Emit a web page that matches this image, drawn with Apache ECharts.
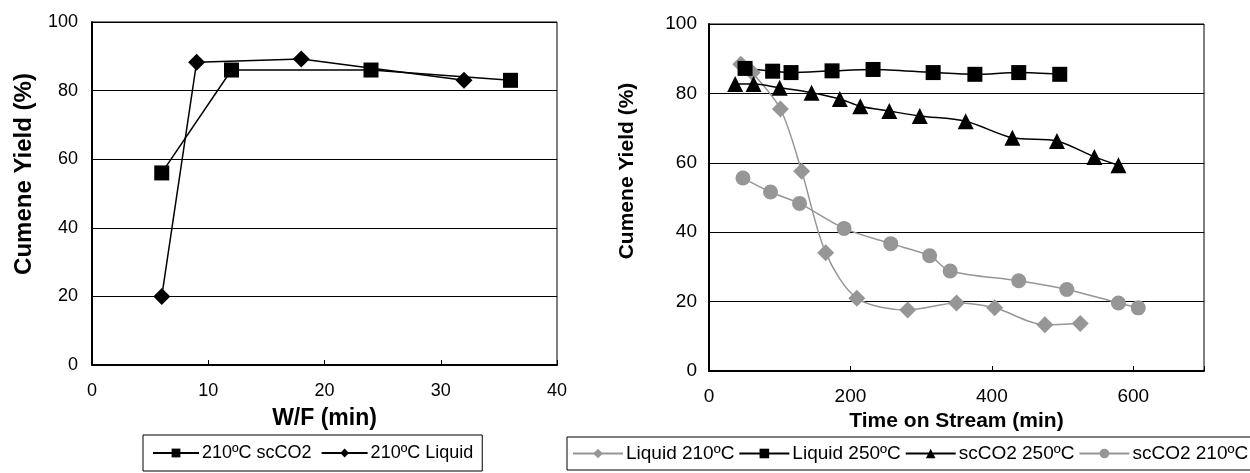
<!DOCTYPE html>
<html>
<head>
<meta charset="utf-8">
<script src="https://cdn.jsdelivr.net/npm/echarts@6/dist/echarts.min.js"></script>
<style>
  html, body { margin: 0; padding: 0; background: #fff; }
  #chart { width: 1250px; height: 473px; }
</style>
</head>
<body>
<div id="chart"></div>
<script>
// Cumene yield vs. W/F (left panel)
const wfScco2X = [6, 12, 24, 36];
const wfScco2Y = [56, 86, 86, 83];
const wfLiquidX = [6, 9, 18, 32];
const wfLiquidY = [20, 88.3, 89.2, 83];

// Cumene yield vs. time on stream (right panel)
const liq210T = [45, 61, 101, 131, 165, 209, 281, 350, 404, 475, 525];
const liq210Y = [88.4, 86.0, 75.5, 57.6, 34.1, 21.0, 17.6, 19.6, 18.2, 13.3, 13.7];
const liq250T = [51, 90, 116, 174, 232, 317, 376, 438, 496];
const liq250Y = [87.2, 86.4, 86.0, 86.5, 86.9, 86.0, 85.5, 86.0, 85.5];
const sc250T = [37, 63, 100, 145, 185, 214, 255, 298, 363, 429, 492, 545, 579];
const sc250Y = [82.7, 82.7, 81.6, 80.2, 78.4, 76.3, 74.9, 73.5, 72.0, 67.2, 66.3, 61.7, 59.3];
const sc210T = [48, 87, 128, 191, 257, 312, 341, 438, 506, 579, 607];
const sc210Y = [55.6, 51.6, 48.3, 41.1, 36.7, 33.2, 28.8, 26.0, 23.5, 19.6, 18.2];

// Axis ranges [min, max, interval] and titles
const leftXRange = [0, 40, 10];
const rightXRange = [0, 700, 200];
const yRange = [0, 100, 20];
const leftXTitle = 'W/F (min)';
const rightXTitle = 'Time on Stream (min)';
const yTitle = 'Cumene Yield (%)';

// Series names
const leftNames = ['210ºC scCO2', '210ºC Liquid'];
const rightNames = ['Liquid 210ºC', 'Liquid 250ºC', 'scCO2 250ºC', 'scCO2 210ºC'];

const FONT = "'Liberation Sans', Arial, Helvetica, sans-serif";
const BLACK = '#000000';
const GRAY = '#969696';

const pairs = (xs, ys) => xs.map((x, i) => [x, ys[i]]);

function xAxisOf(gridIndex, range, title, fontSize, titleSize, nameGap, labelMargin) {
  return {
    type: 'value', gridIndex,
    min: range[0], max: range[1], interval: range[2],
    name: title, nameLocation: 'middle', nameGap,
    nameTextStyle: { fontFamily: FONT, fontWeight: 'bold', fontSize: titleSize, color: BLACK },
    axisLine: { show: true, onZero: false, lineStyle: { color: BLACK, width: 2 } },
    axisTick: { show: true, inside: true, length: 5, lineStyle: { color: BLACK, width: 1 } },
    axisLabel: {
      fontFamily: FONT, fontSize, color: BLACK, margin: labelMargin,
      // the axis end is only labelled when it falls on a whole interval
      formatter: v => (v === range[1] && range[1] % range[2] !== 0) ? '' : String(v)
    },
    splitLine: { show: false }
  };
}

function yAxisOf(gridIndex, fontSize, labelMargin) {
  return {
    type: 'value', gridIndex,
    min: yRange[0], max: yRange[1], interval: yRange[2],
    axisLine: { show: true, lineStyle: { color: BLACK, width: 2 } },
    axisTick: { show: false },
    axisLabel: { fontFamily: FONT, fontSize, color: BLACK, margin: labelMargin },
    splitLine: { show: true, lineStyle: { color: BLACK, width: 1 } }
  };
}

function lineSeries(name, xi, yi, data, color, symbol, size, smooth) {
  return {
    name, type: 'line', xAxisIndex: xi, yAxisIndex: yi,
    data, symbol, symbolSize: size, smooth,
    showAllSymbol: true,
    lineStyle: { color, width: 1.5 },
    itemStyle: { color, borderWidth: 0 },
    emphasis: { disabled: true },
    animation: false, z: 3
  };
}

const chart = echarts.init(document.getElementById('chart'), null, { renderer: 'canvas' });

chart.setOption({
  backgroundColor: '#ffffff',
  animation: false,
  textStyle: { fontFamily: FONT },
  grid: [
    { left: 92, top: 22, width: 465, height: 343, show: true, borderColor: BLACK, borderWidth: 1, backgroundColor: 'transparent' },
    { left: 709, top: 24, width: 495, height: 347, show: true, borderColor: BLACK, borderWidth: 1, backgroundColor: 'transparent' }
  ],
  xAxis: [
    xAxisOf(0, leftXRange, leftXTitle, 18, 23, 42, 17),
    xAxisOf(1, rightXRange, rightXTitle, 19, 21, 35, 16)
  ],
  yAxis: [
    yAxisOf(0, 18, 14),
    yAxisOf(1, 19, 12)
  ],
  graphic: [
    { type: 'text', x: 24, y: 174, rotation: Math.PI / 2,
      style: { text: yTitle, fontFamily: FONT, fontWeight: 'bold', fontSize: 24, fill: BLACK,
        textAlign: 'center', textVerticalAlign: 'middle' } },
    { type: 'text', x: 627, y: 171, rotation: Math.PI / 2,
      style: { text: yTitle, fontFamily: FONT, fontWeight: 'bold', fontSize: 21, fill: BLACK,
        textAlign: 'center', textVerticalAlign: 'middle' } }
  ],
  legend: [
    {
      data: leftNames, left: 143, top: 435, orient: 'horizontal',
      padding: [9, 9, 9, 9], itemGap: 9, itemWidth: 46, itemHeight: 11,
      borderColor: BLACK, borderWidth: 1, backgroundColor: '#fff',
      selectedMode: false,
      textStyle: { fontFamily: FONT, fontSize: 18, color: BLACK, padding: [0, 0, 0, -2] }
    },
    {
      data: rightNames, left: 567, top: 437, width: 900, orient: 'horizontal',
      padding: [7, 20, 7, 5], itemGap: 4, itemWidth: 50, itemHeight: 12,
      borderColor: BLACK, borderWidth: 1, backgroundColor: '#fff',
      selectedMode: false,
      textStyle: { fontFamily: FONT, fontSize: 19, color: BLACK, padding: [0, 0, 0, -2] }
    }
  ],
  series: [
    lineSeries(leftNames[0], 0, 0, pairs(wfScco2X, wfScco2Y), BLACK, 'rect', 15, false),
    lineSeries(leftNames[1], 0, 0, pairs(wfLiquidX, wfLiquidY), BLACK, 'diamond', 17, false),
    lineSeries(rightNames[0], 1, 1, pairs(liq210T, liq210Y), GRAY, 'diamond', 17, 0.3),
    lineSeries(rightNames[1], 1, 1, pairs(liq250T, liq250Y), BLACK, 'rect', 15, 0.3),
    lineSeries(rightNames[2], 1, 1, pairs(sc250T, sc250Y), BLACK, 'triangle', 16, 0.3),
    lineSeries(rightNames[3], 1, 1, pairs(sc210T, sc210Y), GRAY, 'circle', 15, 0.3)
  ]
});
</script>
</body>
</html>
